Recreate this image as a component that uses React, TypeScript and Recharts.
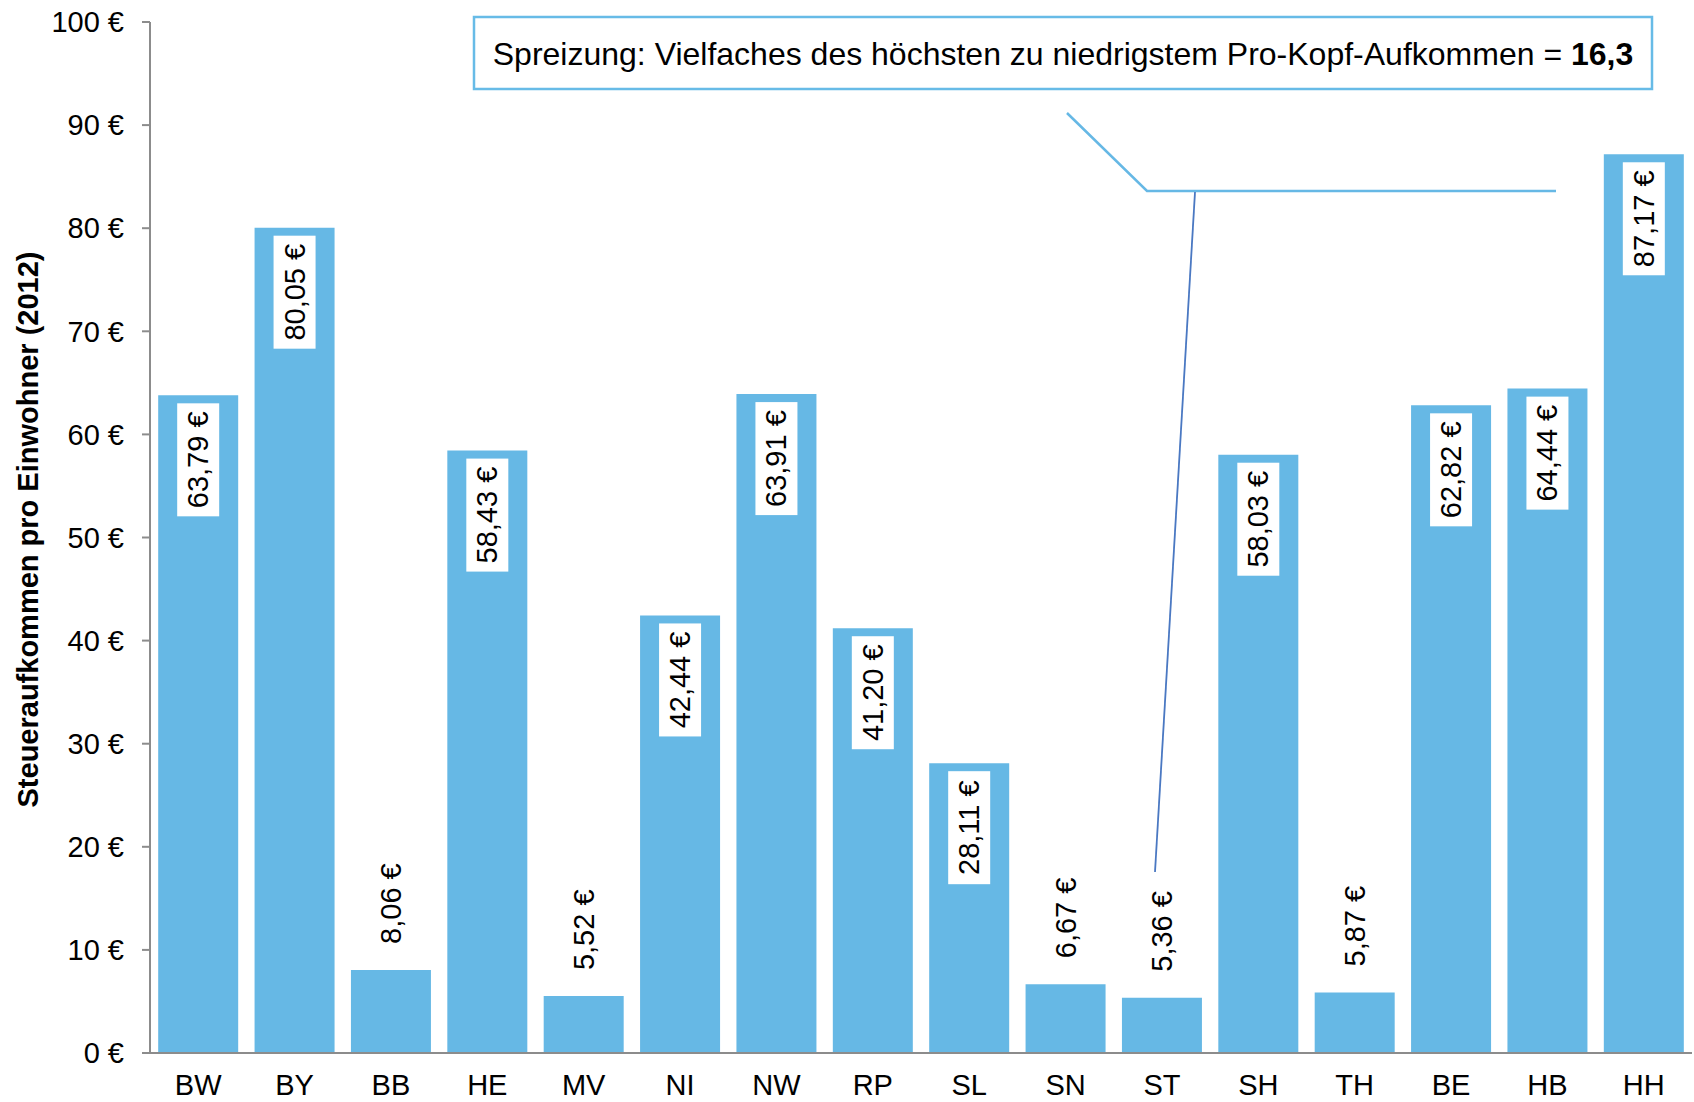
import React from 'react'
import { BarChart, Bar, XAxis, YAxis, LabelList } from 'recharts'

const states = ['BW', 'BY', 'BB', 'HE', 'MV', 'NI', 'NW', 'RP', 'SL', 'SN', 'ST', 'SH', 'TH', 'BE', 'HB', 'HH']
const perCapita = [63.79, 80.05, 8.06, 58.43, 5.52, 42.44, 63.91, 41.2, 28.11, 6.67, 5.36, 58.03, 5.87, 62.82, 64.44, 87.17]
const yTicks = [0, 10, 20, 30, 40, 50, 60, 70, 80, 90, 100]

const yTitle = 'Steueraufkommen pro Einwohner (2012)'
const noteText = 'Spreizung: Vielfaches des höchsten zu niedrigstem Pro-Kopf-Aufkommen = '
const noteValue = '16,3'

const data = states.map((s, i) => ({ code: s, value: perCapita[i] }))

const BAR = '#66b8e5'
const AXIS = '#8c8c8c'
const FONT = 29

const euro = (v: number) => v.toFixed(2).replace('.', ',') + ' €'

const ValueLabel = (props: any) => {
  const { x, y, width, height, value } = props
  const cx = x + width / 2
  if (height > 130) {
    // white box inside the top of the bar
    const top = y + 8
    const bh = 113
    const cy = top + bh / 2
    return (
      <g>
        <rect x={cx - 21} y={top} width={42} height={bh} fill="#fff" />
        <text x={cx} y={cy} transform={`rotate(-90 ${cx} ${cy})`} textAnchor="middle"
          dominantBaseline="central" fontSize={FONT} fill="#000">{euro(value)}</text>
      </g>
    )
  }
  const ty = y - 26
  return (
    <text x={cx} y={ty} transform={`rotate(-90 ${cx} ${ty})`} textAnchor="start"
      dominantBaseline="central" fontSize={FONT} fill="#000">{euro(value)}</text>
  )
}

const YTitle = (props: any) => {
  const vb = props.viewBox || { x: 0, y: 22, width: 150, height: 1031 }
  const cx = vb.x + 28
  const cy = vb.y + vb.height / 2 - 8
  return (
    <text x={cx} y={cy} transform={`rotate(-90 ${cx} ${cy})`} textAnchor="middle"
      dominantBaseline="central" fontSize={FONT} fontWeight="bold" fill="#000">{yTitle}</text>
  )
}

export default function App() {
  return (
    <div style={{ position: 'absolute', left: 0, top: 0, width: 1694, height: 1102, background: '#fff',
      fontFamily: '"Liberation Sans", Arial, sans-serif' }}>
      <BarChart width={1694} height={1102} data={data} margin={{ top: 22, right: 2, left: 0, bottom: 0 }}
        barCategoryGap="8.5%">
        <XAxis dataKey="code" height={49} tickLine={false} tickSize={6} tickMargin={15}
          axisLine={{ stroke: AXIS, strokeWidth: 2 }} tick={{ fill: '#000', fontSize: FONT }} interval={0} />
        <YAxis width={150} domain={[0, 100]} ticks={yTicks} tickFormatter={(v) => `${v} €`}
          tickSize={8} tickMargin={18} axisLine={{ stroke: AXIS, strokeWidth: 2 }}
          tickLine={{ stroke: AXIS, strokeWidth: 2 }} tick={{ fill: '#000', fontSize: FONT }}
          label={{ content: (p: any) => <YTitle {...p} /> }} />
        <Bar dataKey="value" fill={BAR} isAnimationActive={false}>
          <LabelList dataKey="value" content={(p: any) => <ValueLabel {...p} />} />
        </Bar>
      </BarChart>
      <svg width={1694} height={1102} style={{ position: 'absolute', left: 0, top: 0, pointerEvents: 'none' }}>
        <rect x={474} y={17} width={1178} height={72} fill="#fff" stroke="#67bbe7" strokeWidth={2.5} />
        <text x={1063} y={54} textAnchor="middle" dominantBaseline="central" fontSize={32} fill="#000">
          {noteText}<tspan fontWeight="bold">{noteValue}</tspan>
        </text>
        <polyline points="1067,113 1147,191 1556,191" fill="none" stroke={BAR} strokeWidth={2.5} />
        <line x1={1195} y1={192} x2={1155} y2={872} stroke="#4a78c2" strokeWidth={1.8} />
      </svg>
    </div>
  )
}
